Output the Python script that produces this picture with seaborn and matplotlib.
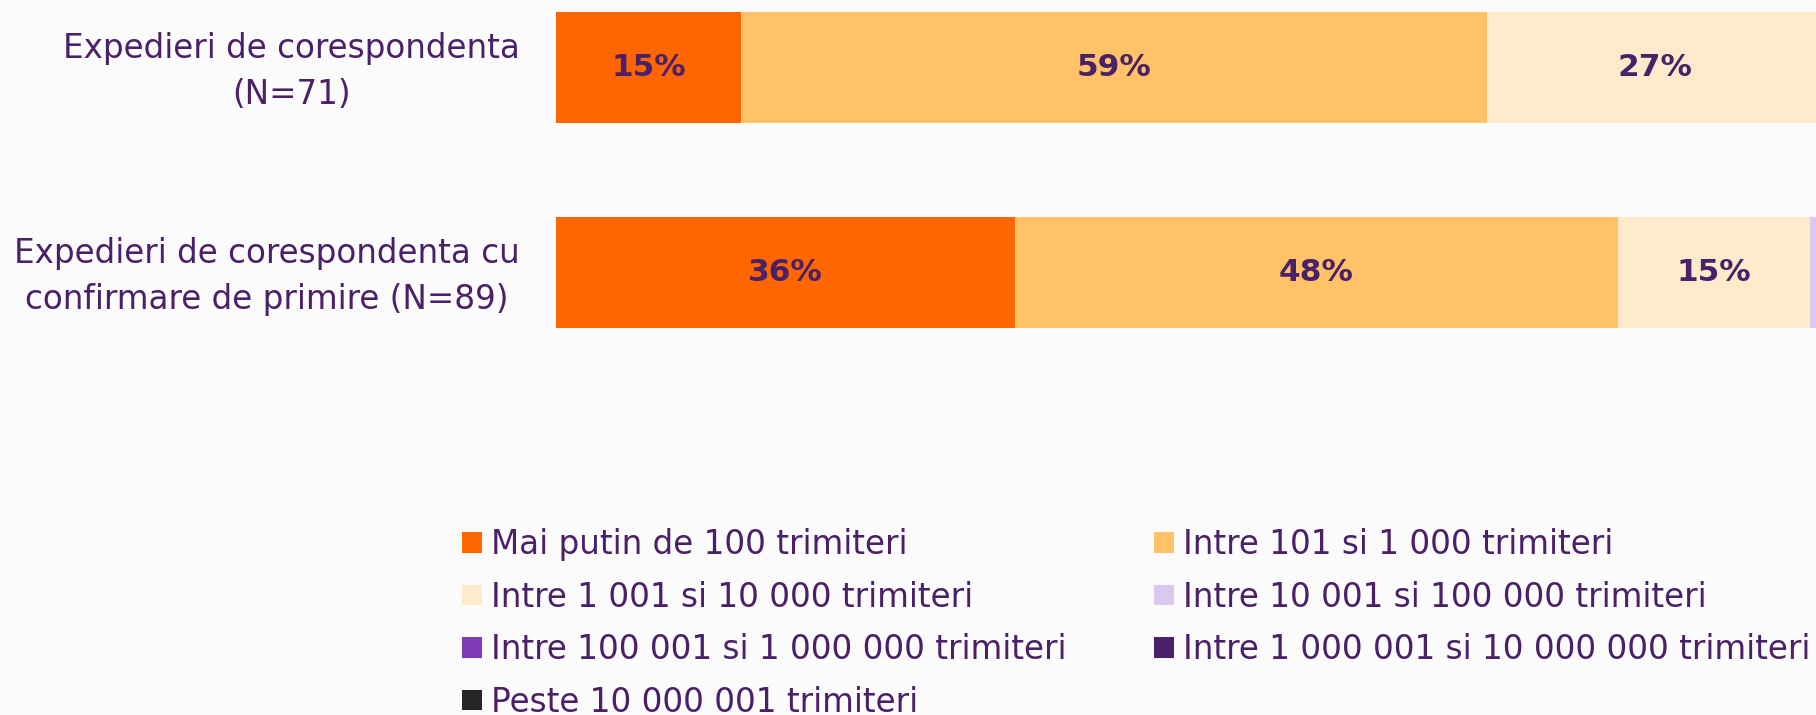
"""Stacked share of mailing volume by sender group."""

import matplotlib

matplotlib.use("Agg")

import matplotlib.pyplot as plt
import matplotlib.transforms as mtransforms
import pandas as pd
import seaborn as sns
from matplotlib.patches import Patch

GROUPS = [
    "Expedieri de corespondenta\n(N=71)",
    "Expedieri de corespondenta cu\nconfirmare de primire (N=89)",
]
BANDS = [
    "Mai putin de 100 trimiteri",
    "Intre 101 si 1 000 trimiteri",
    "Intre 1 001 si 10 000 trimiteri",
    "Intre 10 001 si 100 000 trimiteri",
    "Intre 100 001 si 1 000 000 trimiteri",
    "Intre 1 000 001 si 10 000 000 trimiteri",
    "Peste 10 000 001 trimiteri",
]
SHARE_SIMPLE = [14.7, 59.2, 26.6, 0.0, 0.0, 0.0, 0.0]
SHARE_CONFIRMED = [36.4, 47.9, 15.2, 0.5, 0.0, 0.0, 0.0]
LABELS_SIMPLE = ["15%", "59%", "27%", "", "", "", ""]
LABELS_CONFIRMED = ["36%", "48%", "15%", "", "", "", ""]

COLORS = ["#ff6600", "#ffc266", "#ffeacc", "#dcc8ee", "#7f3ab5", "#4b1f6a", "#262626"]
TEXT_COLOR = "#4a2068"
BG = "#fbfbfb"

sns.set_theme(style="white")
plt.rcParams["font.family"] = ["DejaVu Sans"]

rows = []
for group, shares, labels in [
    (GROUPS[0], SHARE_SIMPLE, LABELS_SIMPLE),
    (GROUPS[1], SHARE_CONFIRMED, LABELS_CONFIRMED),
]:
    total = 0.0
    for band, share, label in zip(BANDS, shares, labels):
        total += share
        rows.append({"group": group, "band": band, "share": share, "cum": total, "label": label})
frame = pd.DataFrame(rows)

fig = plt.figure(figsize=(18.16, 7.15), dpi=100, facecolor=BG)
ax = fig.add_axes([556 / 1816, 1 - 340 / 715, 1260 / 1816, 340 / 715])
ax.set_facecolor(BG)

# draw cumulative totals back to front so each band covers the next
for band, color in reversed(list(zip(BANDS, COLORS))):
    sns.barplot(
        data=frame[frame["band"] == band],
        x="cum",
        y="group",
        order=GROUPS,
        orient="h",
        color=color,
        saturation=1,
        width=0.54,
        linewidth=0,
        ax=ax,
    )

for row in frame.itertuples(index=False):
    if row.label:
        ax.text(
            row.cum - row.share / 2,
            GROUPS.index(row.group),
            row.label,
            ha="center",
            va="center",
            fontsize=22.5,
            fontweight="bold",
            color=TEXT_COLOR,
        )

ax.set_xlim(0, 100)
ax.set_ylim(1.33, -0.33)
ax.set_xlabel("")
ax.set_ylabel("")
ax.set_xticks([])
ax.set_yticks(range(len(GROUPS)), GROUPS, multialignment="center", linespacing=1.5)
ax.tick_params(axis="y", left=False, length=0, pad=26, labelsize=23.5, labelcolor=TEXT_COLOR)
sns.despine(ax=ax, left=True, bottom=True)

# nudge the two-line group labels up a little
lift = mtransforms.ScaledTranslation(0, 6 / 100, fig.dpi_scale_trans)
for tick_label in ax.get_yticklabels():
    tick_label.set_transform(tick_label.get_transform() + lift)

handles = [Patch(facecolor=c, edgecolor="none", label=b) for b, c in zip(BANDS, COLORS)]
order = [0, 2, 4, 6, 1, 3, 5]
fig.legend(
    [handles[i] for i in order],
    [BANDS[i] for i in order],
    ncol=2,
    loc="upper left",
    bbox_to_anchor=(462 / 1816, 1 - 528 / 715),
    frameon=False,
    fontsize=23.5,
    labelcolor=TEXT_COLOR,
    handlelength=0.61,
    handleheight=0.58,
    handletextpad=0.28,
    labelspacing=0.60,
    columnspacing=2.68,
    borderpad=0,
    borderaxespad=0,
)

fig.savefig("out.png", dpi=100, facecolor=BG)
